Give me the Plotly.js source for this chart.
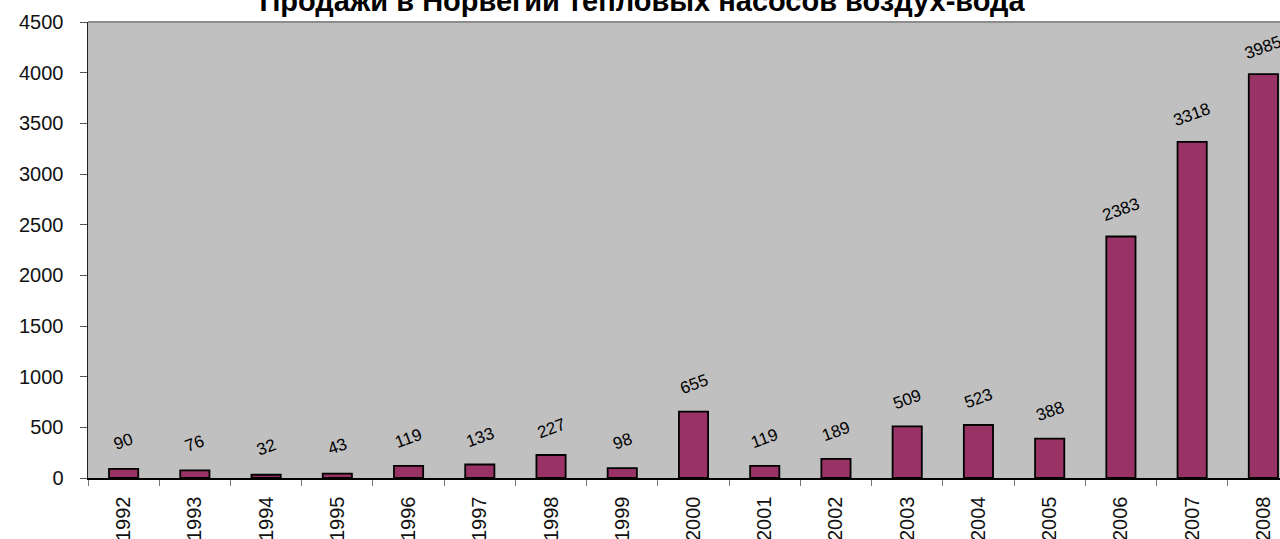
<!DOCTYPE html>
<html>
<head>
<meta charset="utf-8">
<script src="https://cdn.plot.ly/plotly-3.0.1.min.js"></script>
<style>
html, body { margin: 0; padding: 0; overflow: hidden; background: #fff; width: 1280px; height: 539px; }
#chart { width: 1300px; height: 539px; }
</style>
</head>
<body>
<div id="chart"></div>
<script>
const years = ["1992","1993","1994","1995","1996","1997","1998","1999","2000","2001","2002","2003","2004","2005","2006","2007","2008"];
const sales = [90, 76, 32, 43, 119, 133, 227, 98, 655, 119, 189, 509, 523, 388, 2383, 3318, 3985];
const titleText = "Продажи в Норвегии тепловых насосов воздух-вода";
const yTicks = [0, 500, 1000, 1500, 2000, 2500, 3000, 3500, 4000, 4500];

const FONT = "Liberation Sans, Arial, sans-serif";

const trace = {
  type: "bar",
  x: years,
  y: sales,
  marker: { color: "#993366", line: { color: "#000000", width: 1.8 } },
  hoverinfo: "x+y"
};

const annotations = years.map((yr, i) => ({
  x: i,
  y: sales[i],
  xref: "x",
  yref: "y",
  text: String(sales[i]),
  showarrow: false,
  textangle: -20,
  yshift: 27,
  font: { family: FONT, size: 17, color: "#000" }
}));

const layout = {
  width: 1300,
  height: 539,
  margin: { l: 88, r: 1, t: 22, b: 61 },
  paper_bgcolor: "#ffffff",
  plot_bgcolor: "#c0c0c0",
  showlegend: false,
  bargap: 0.59,
  title: {
    text: "<b>" + titleText + "</b>",
    font: { family: FONT, size: 29, color: "#000" },
    xref: "container",
    x: 642 / 1300,
    xanchor: "center",
    yref: "paper",
    y: 1,
    yanchor: "bottom",
    pad: { b: 11 }
  },
  xaxis: {
    type: "category",
    range: [-0.5, years.length - 0.5],
    autorange: false,
    tickmode: "array",
    tickvals: years,
    ticktext: years,
    tickangle: -90,
    tickson: "boundaries",
    ticks: "outside",
    ticklen: 6,
    tickcolor: "#777",
    tickfont: { family: FONT, size: 20, color: "#111" },
    ticklabelstandoff: 9,
    showline: true,
    linecolor: "#000",
    linewidth: 1.5,
    showgrid: false,
    zeroline: false,
    fixedrange: true
  },
  yaxis: {
    range: [0, 4500],
    autorange: false,
    tickmode: "array",
    tickvals: yTicks,
    ticktext: yTicks.map(String),
    ticks: "outside",
    ticklen: 7,
    tickcolor: "#555",
    tickfont: { family: FONT, size: 20, color: "#111" },
    ticklabelstandoff: 12,
    showline: true,
    linecolor: "#222",
    linewidth: 1.5,
    showgrid: false,
    zeroline: false,
    fixedrange: true
  },
  shapes: [
    { type: "line", xref: "paper", yref: "paper", x0: 0, x1: 1, y0: 1, y1: 1,
      line: { color: "#8c8c8c", width: 2 } }
  ],
  annotations: annotations
};

Plotly.newPlot("chart", [trace], layout, { displayModeBar: false, staticPlot: true });
</script>
</body>
</html>
